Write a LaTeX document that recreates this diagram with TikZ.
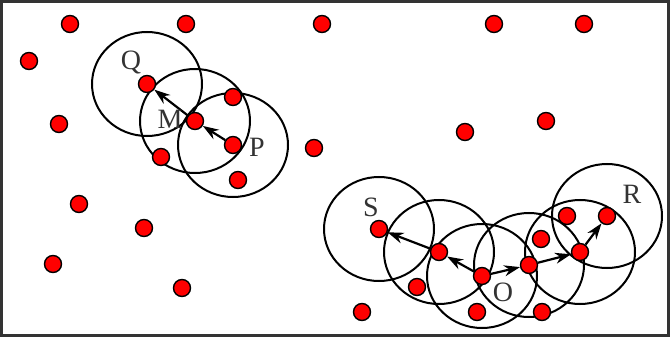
\documentclass[tikz,border=0pt]{standalone}
\usepackage{fontspec}
\setmainfont{Liberation Serif}
\usetikzlibrary{arrows.meta,backgrounds}

\begin{document}
\begin{tikzpicture}[x=1pt,y=-1pt,
  sensor/.style={circle,draw=black,fill=red,line width=1.4pt,minimum size=17pt,inner sep=0pt},
  cover/.style={draw=black,line width=2pt},
  hop/.style={-{Stealth[length=16pt,width=11pt]},line width=2.2pt},
  lbl/.style={font=\fontsize{28}{30}\selectfont,text=black!80,inner sep=0pt}]
\useasboundingbox (0,0) rectangle (670,337);
\draw[line width=2.5pt,black!80](1.5,1.5) rectangle (668.5,335.5);
% other sensors
\foreach \x/\y [count=\i] in {70/24,186/24,322/24,29/61,59/124,233/97,161/157,314/148,238/180,
  79/204,144/228,53/264,182/288,494/24,584/24,546/121,465/132,417/287,477/312,542/312,
  362/312,567/216,541/239}
  \node[sensor] (n\i) at (\x,\y) {};
% route P to Q
\node[sensor] (q) at (147,84) {};
\node[sensor] (m) at (195,121) {};
\node[sensor] (p) at (233,145) {};
% route from O
\node[sensor] (s) at (379,229) {};
\node[sensor] (a) at (439,252) {};
\node[sensor] (o) at (482,276) {};
\node[sensor] (b) at (529,265) {};
\node[sensor] (c) at (580,252) {};
\node[sensor] (r) at (607,216) {};
\begin{scope}[on background layer]
\foreach \n in {q,m,p,s,a,o,b,c,r}
  \draw[cover] (\n) circle [x radius=55pt,y radius=52pt];
\end{scope}
\draw[hop](p)--(m);
\draw[hop](m)--(q);
\draw[hop](o)--(a);
\draw[hop](a)--(s);
\draw[hop](o)--(b);
\draw[hop](b)--(c);
\draw[hop](c)--(r);
\node[lbl] (lq) at (131,63) {Q};
\node[lbl] (lm) at (170,119) {M};
\node[lbl] (lp) at (257,147) {P};
\node[lbl] (ls) at (371,207) {S};
\node[lbl] (lo) at (503,292) {O};
\node[lbl] (lr) at (632,194) {R};
\end{tikzpicture}
\end{document}
